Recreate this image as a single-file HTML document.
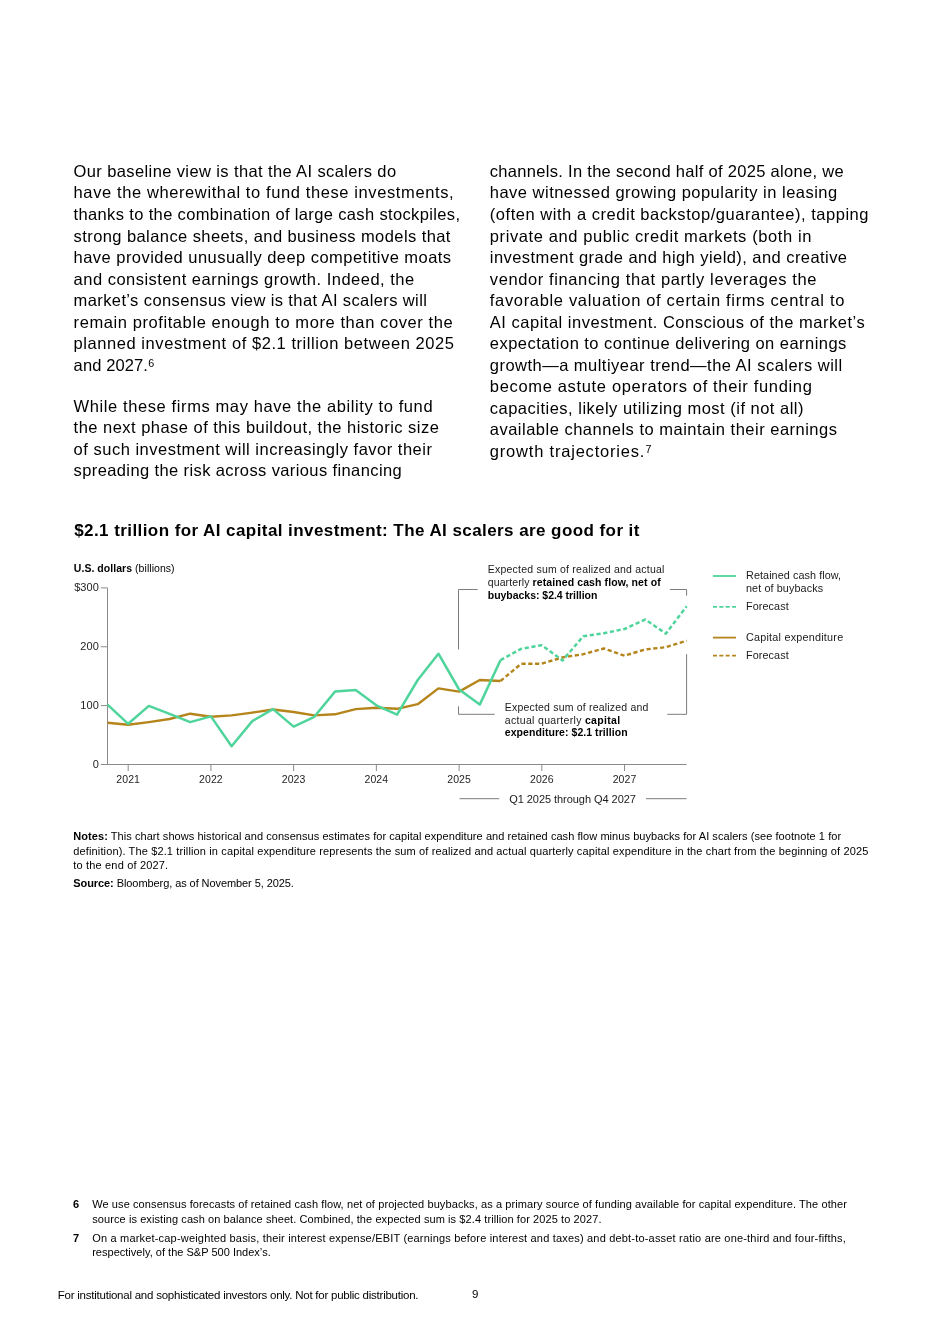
<!DOCTYPE html>
<html><head><meta charset="utf-8"><title>Page 9</title>
<style>
html,body{margin:0;padding:0;background:#fff;}
body{width:950px;height:1344px;position:relative;overflow:hidden;font-family:"Liberation Sans", sans-serif;color:#000;}
.l{position:absolute;height:0;white-space:nowrap;line-height:0;}
.l span{position:absolute;left:0;bottom:-0.228em;line-height:normal;display:block;}
.l.c span{transform:translateX(-50%);}
.l.r span{left:auto;right:0;}
.l b{color:#000;}
sup{font-size:65%;vertical-align:0;position:relative;top:-0.36em;letter-spacing:0;margin-left:0.02em;}
</style></head><body>
<svg width="950" height="1344" viewBox="0 0 950 1344" style="position:absolute;left:0;top:0"><path d="M107.5 587.8 V764.5 H686.6" fill="none" stroke="#8a8a8a" stroke-width="1"/><path d="M100.8 587.89 H107.5" stroke="#8a8a8a" stroke-width="1"/><path d="M100.8 646.76 H107.5" stroke="#8a8a8a" stroke-width="1"/><path d="M100.8 705.63 H107.5" stroke="#8a8a8a" stroke-width="1"/><path d="M100.8 764.50 H107.5" stroke="#8a8a8a" stroke-width="1"/><path d="M128.18 764.5 V771" stroke="#8a8a8a" stroke-width="1"/><path d="M210.91 764.5 V771" stroke="#8a8a8a" stroke-width="1"/><path d="M293.64 764.5 V771" stroke="#8a8a8a" stroke-width="1"/><path d="M376.37 764.5 V771" stroke="#8a8a8a" stroke-width="1"/><path d="M459.10 764.5 V771" stroke="#8a8a8a" stroke-width="1"/><path d="M541.83 764.5 V771" stroke="#8a8a8a" stroke-width="1"/><path d="M624.55 764.5 V771" stroke="#8a8a8a" stroke-width="1"/><path d="M477.6 589.5 H458.5 V649.5" fill="none" stroke="#7c7c7c" stroke-width="1"/><path d="M669.9 589.5 H686.6 V595.6" fill="none" stroke="#7c7c7c" stroke-width="1"/><path d="M458.5 706.3 V714.3 H494.7" fill="none" stroke="#7c7c7c" stroke-width="1"/><path d="M667.3 714.3 H686.6 V654.2" fill="none" stroke="#7c7c7c" stroke-width="1"/><path d="M459.5 798.7 H499.2 M646 798.7 H686.6" fill="none" stroke="#7c7c7c" stroke-width="1"/><polyline points="107.50,722.70 128.18,724.80 148.86,722.10 169.55,719.00 190.23,713.70 210.91,716.80 231.59,715.40 252.28,712.60 272.96,709.50 293.64,712.00 314.32,715.40 335.00,714.30 355.69,709.10 376.37,707.80 397.05,708.80 417.73,704.20 438.41,688.40 459.10,691.60 479.78,680.00 500.46,681.00" fill="none" stroke="#b5851c" stroke-width="2.4" stroke-linejoin="round"/><polyline points="500.46,681.00 521.14,663.80 541.83,663.70 562.51,657.40 583.19,654.20 603.87,648.50 624.55,655.70 645.24,649.40 665.92,647.20 686.60,640.70" fill="none" stroke="#b5851c" stroke-width="2.4" stroke-dasharray="4.2 2.6" stroke-linejoin="round"/><polyline points="107.50,704.60 128.18,723.80 148.86,705.90 169.55,713.90 190.23,722.10 210.91,716.40 231.59,746.30 252.28,721.10 272.96,709.10 293.64,726.60 314.32,716.80 335.00,691.60 355.69,689.90 376.37,705.30 397.05,714.70 417.73,680.00 438.41,653.70 459.10,689.50 479.78,704.60 500.46,660.20" fill="none" stroke="#4fd49b" stroke-width="2.5" stroke-linejoin="round"/><polyline points="500.46,660.20 521.14,648.80 541.83,645.20 562.51,660.50 583.19,636.30 603.87,633.20 624.55,629.00 645.24,619.50 665.92,633.60 686.60,606.30" fill="none" stroke="#4fd49b" stroke-width="2.5" stroke-dasharray="4.2 2.6" stroke-linejoin="round"/><path d="M713 576 H736" stroke="#4fd49b" stroke-width="1.8"/><path d="M713 606.8 H736" stroke="#4fd49b" stroke-width="1.8" stroke-dasharray="4 2.35"/><path d="M713 637.6 H736" stroke="#b5851c" stroke-width="1.8"/><path d="M713 655.6 H736" stroke="#b5851c" stroke-width="1.8" stroke-dasharray="4 2.35"/></svg>
<div id="txt" style="position:absolute;left:0;top:0;width:950px;height:1344px;will-change:transform">
<div id="L0" class="l" style="left:73.60px;top:177.20px;font-size:16.5px;letter-spacing:0.385px;"><span>Our baseline view is that the AI scalers do</span></div>
<div id="L1" class="l" style="left:73.60px;top:198.72px;font-size:16.5px;letter-spacing:0.604px;"><span>have the wherewithal to fund these investments,</span></div>
<div id="L2" class="l" style="left:73.60px;top:220.24px;font-size:16.5px;letter-spacing:0.354px;"><span>thanks to the combination of large cash stockpiles,</span></div>
<div id="L3" class="l" style="left:73.60px;top:241.76px;font-size:16.5px;letter-spacing:0.415px;"><span>strong balance sheets, and business models that</span></div>
<div id="L4" class="l" style="left:73.60px;top:263.28px;font-size:16.5px;letter-spacing:0.460px;"><span>have provided unusually deep competitive moats</span></div>
<div id="L5" class="l" style="left:73.60px;top:284.80px;font-size:16.5px;letter-spacing:0.485px;"><span>and consistent earnings growth. Indeed, the</span></div>
<div id="L6" class="l" style="left:73.60px;top:306.32px;font-size:16.5px;letter-spacing:0.391px;"><span>market’s consensus view is that AI scalers will</span></div>
<div id="L7" class="l" style="left:73.60px;top:327.84px;font-size:16.5px;letter-spacing:0.582px;"><span>remain profitable enough to more than cover the</span></div>
<div id="L8" class="l" style="left:73.60px;top:349.36px;font-size:16.5px;letter-spacing:0.559px;"><span>planned investment of $2.1 trillion between 2025</span></div>
<div id="L9" class="l" style="left:73.60px;top:370.88px;font-size:16.5px;letter-spacing:0.120px;"><span>and 2027.<sup>6</sup></span></div>
<div id="M0" class="l" style="left:73.60px;top:411.90px;font-size:16.5px;letter-spacing:0.600px;"><span>While these firms may have the ability to fund</span></div>
<div id="M1" class="l" style="left:73.60px;top:433.42px;font-size:16.5px;letter-spacing:0.472px;"><span>the next phase of this buildout, the historic size</span></div>
<div id="M2" class="l" style="left:73.60px;top:454.94px;font-size:16.5px;letter-spacing:0.503px;"><span>of such investment will increasingly favor their</span></div>
<div id="M3" class="l" style="left:73.60px;top:476.46px;font-size:16.5px;letter-spacing:0.387px;"><span>spreading the risk across various financing</span></div>
<div id="R0" class="l" style="left:489.80px;top:177.20px;font-size:16.5px;letter-spacing:0.300px;"><span>channels. In the second half of 2025 alone, we</span></div>
<div id="R1" class="l" style="left:489.80px;top:198.72px;font-size:16.5px;letter-spacing:0.485px;"><span>have witnessed growing popularity in leasing</span></div>
<div id="R2" class="l" style="left:489.80px;top:220.24px;font-size:16.5px;letter-spacing:0.532px;"><span>(often with a credit backstop/guarantee), tapping</span></div>
<div id="R3" class="l" style="left:489.80px;top:241.76px;font-size:16.5px;letter-spacing:0.595px;"><span>private and public credit markets (both in</span></div>
<div id="R4" class="l" style="left:489.80px;top:263.28px;font-size:16.5px;letter-spacing:0.438px;"><span>investment grade and high yield), and creative</span></div>
<div id="R5" class="l" style="left:489.80px;top:284.80px;font-size:16.5px;letter-spacing:0.607px;"><span>vendor financing that partly leverages the</span></div>
<div id="R6" class="l" style="left:489.80px;top:306.32px;font-size:16.5px;letter-spacing:0.669px;"><span>favorable valuation of certain firms central to</span></div>
<div id="R7" class="l" style="left:489.80px;top:327.84px;font-size:16.5px;letter-spacing:0.510px;"><span>AI capital investment. Conscious of the market’s</span></div>
<div id="R8" class="l" style="left:489.80px;top:349.36px;font-size:16.5px;letter-spacing:0.462px;"><span>expectation to continue delivering on earnings</span></div>
<div id="R9" class="l" style="left:489.80px;top:370.88px;font-size:16.5px;letter-spacing:0.475px;"><span>growth—a multiyear trend—the AI scalers will</span></div>
<div id="R10" class="l" style="left:489.80px;top:392.40px;font-size:16.5px;letter-spacing:0.662px;"><span>become astute operators of their funding</span></div>
<div id="R11" class="l" style="left:489.80px;top:413.92px;font-size:16.5px;letter-spacing:0.491px;"><span>capacities, likely utilizing most (if not all)</span></div>
<div id="R12" class="l" style="left:489.80px;top:435.44px;font-size:16.5px;letter-spacing:0.489px;"><span>available channels to maintain their earnings</span></div>
<div id="R13" class="l" style="left:489.80px;top:456.96px;font-size:16.5px;letter-spacing:0.800px;"><span>growth trajectories.<sup>7</sup></span></div>
<div id="title" class="l" style="left:74.20px;top:536.70px;font-size:17px;letter-spacing:0.427px;font-weight:bold;"><span>$2.1 trillion for AI capital investment: The AI scalers are good for it</span></div>
<div id="units" class="l" style="left:73.80px;top:571.70px;font-size:10.5px;letter-spacing:0.045px;"><span><b>U.S. dollars</b> (billions)</span></div>
<div id="a1" class="l" style="left:487.80px;top:573.10px;font-size:10.5px;letter-spacing:0.215px;color:#1a1a1a;"><span>Expected sum of realized and actual</span></div>
<div id="a2" class="l" style="left:487.80px;top:585.80px;font-size:10.5px;letter-spacing:0.099px;color:#1a1a1a;"><span>quarterly <b>retained cash flow, net of</b></span></div>
<div id="a3" class="l" style="left:487.80px;top:598.50px;font-size:10.5px;letter-spacing:-0.032px;color:#1a1a1a;"><span><b>buybacks: $2.4 trillion</b></span></div>
<div id="b1" class="l" style="left:504.80px;top:710.80px;font-size:10.5px;letter-spacing:0.191px;color:#1a1a1a;"><span>Expected sum of realized and</span></div>
<div id="b2" class="l" style="left:504.80px;top:723.50px;font-size:10.5px;letter-spacing:0.320px;color:#1a1a1a;"><span>actual quarterly <b>capital</b></span></div>
<div id="b3" class="l" style="left:504.80px;top:736.00px;font-size:10.5px;letter-spacing:0.058px;color:#1a1a1a;"><span><b>expenditure: $2.1 trillion</b></span></div>
<div id="q" class="l" style="left:509.20px;top:802.60px;font-size:11px;letter-spacing:-0.050px;color:#1a1a1a;"><span>Q1 2025 through Q4 2027</span></div>
<div id="g1" class="l" style="left:746.00px;top:578.90px;font-size:10.8px;letter-spacing:0.083px;color:#1a1a1a;"><span>Retained cash flow,</span></div>
<div id="g2" class="l" style="left:746.00px;top:591.60px;font-size:10.8px;letter-spacing:0.107px;color:#1a1a1a;"><span>net of buybacks</span></div>
<div id="g3" class="l" style="left:746.00px;top:609.90px;font-size:10.8px;letter-spacing:0.100px;color:#1a1a1a;"><span>Forecast</span></div>
<div id="g4" class="l" style="left:746.00px;top:640.80px;font-size:10.8px;letter-spacing:0.228px;color:#1a1a1a;"><span>Capital expenditure</span></div>
<div id="g5" class="l" style="left:746.00px;top:658.60px;font-size:10.8px;letter-spacing:0.100px;color:#1a1a1a;"><span>Forecast</span></div>
<div id="n1" class="l" style="left:73.30px;top:839.90px;font-size:11px;letter-spacing:0.060px;"><span><b>Notes:</b> This chart shows historical and consensus estimates for capital expenditure and retained cash flow minus buybacks for AI scalers (see footnote 1 for</span></div>
<div id="n2" class="l" style="left:73.30px;top:854.50px;font-size:11px;letter-spacing:0.132px;"><span>definition). The $2.1 trillion in capital expenditure represents the sum of realized and actual quarterly capital expenditure in the chart from the beginning of 2025</span></div>
<div id="n3" class="l" style="left:73.30px;top:868.80px;font-size:11px;letter-spacing:0.172px;"><span>to the end of 2027.</span></div>
<div id="n4" class="l" style="left:73.30px;top:886.30px;font-size:11px;letter-spacing:-0.078px;"><span><b>Source:</b> Bloomberg, as of November 5, 2025.</span></div>
<div id="f6" class="l" style="left:73.00px;top:1207.90px;font-size:11px;letter-spacing:0.000px;"><span><b>6</b></span></div>
<div id="f6a" class="l" style="left:92.20px;top:1207.90px;font-size:11px;letter-spacing:0.097px;"><span>We use consensus forecasts of retained cash flow, net of projected buybacks, as a primary source of funding available for capital expenditure. The other</span></div>
<div id="f6b" class="l" style="left:92.20px;top:1222.60px;font-size:11px;letter-spacing:0.089px;"><span>source is existing cash on balance sheet. Combined, the expected sum is $2.4 trillion for 2025 to 2027.</span></div>
<div id="f7" class="l" style="left:73.00px;top:1241.20px;font-size:11px;letter-spacing:0.000px;"><span><b>7</b></span></div>
<div id="f7a" class="l" style="left:92.20px;top:1241.20px;font-size:11px;letter-spacing:0.187px;"><span>On a market-cap-weighted basis, their interest expense/EBIT (earnings before interest and taxes) and debt-to-asset ratio are one-third and four-fifths,</span></div>
<div id="f7b" class="l" style="left:92.20px;top:1255.90px;font-size:11px;letter-spacing:0.016px;"><span>respectively, of the S&amp;P 500 Index’s.</span></div>
<div id="foot" class="l" style="left:57.80px;top:1298.80px;font-size:11.5px;letter-spacing:-0.237px;"><span>For institutional and sophisticated investors only. Not for public distribution.</span></div>
<div id="pg" class="l" style="left:472.10px;top:1297.30px;font-size:11.5px;letter-spacing:0.000px;"><span>9</span></div>
<div class="l r" style="left:99.0px;top:590.99px;font-size:11px;letter-spacing:0.1px;color:#1e1e1e"><span>$300</span></div>
<div class="l r" style="left:99.0px;top:649.86px;font-size:11px;letter-spacing:0.1px;color:#1e1e1e"><span>200</span></div>
<div class="l r" style="left:99.0px;top:708.73px;font-size:11px;letter-spacing:0.1px;color:#1e1e1e"><span>100</span></div>
<div class="l r" style="left:99.0px;top:767.60px;font-size:11px;letter-spacing:0.1px;color:#1e1e1e"><span>0</span></div>
<div class="l c" style="left:128.18px;top:782.2px;font-size:10.5px;letter-spacing:0.1px;color:#1e1e1e"><span>2021</span></div>
<div class="l c" style="left:210.91px;top:782.2px;font-size:10.5px;letter-spacing:0.1px;color:#1e1e1e"><span>2022</span></div>
<div class="l c" style="left:293.64px;top:782.2px;font-size:10.5px;letter-spacing:0.1px;color:#1e1e1e"><span>2023</span></div>
<div class="l c" style="left:376.37px;top:782.2px;font-size:10.5px;letter-spacing:0.1px;color:#1e1e1e"><span>2024</span></div>
<div class="l c" style="left:459.10px;top:782.2px;font-size:10.5px;letter-spacing:0.1px;color:#1e1e1e"><span>2025</span></div>
<div class="l c" style="left:541.83px;top:782.2px;font-size:10.5px;letter-spacing:0.1px;color:#1e1e1e"><span>2026</span></div>
<div class="l c" style="left:624.55px;top:782.2px;font-size:10.5px;letter-spacing:0.1px;color:#1e1e1e"><span>2027</span></div>
</div>
</body></html>
